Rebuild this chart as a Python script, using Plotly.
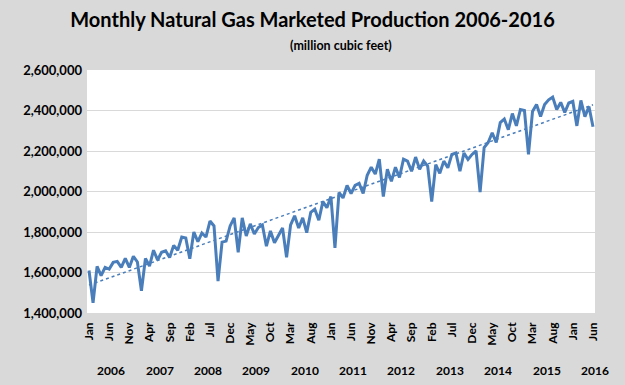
import numpy as np
import plotly.graph_objects as go

months = ["Jan", "Feb", "Mar", "Apr", "May", "Jun", "Jul", "Aug", "Sep", "Oct", "Nov", "Dec"]
years = [2006, 2007, 2008, 2009, 2010, 2011, 2012, 2013, 2014, 2015, 2016]

# Monthly marketed production, million cubic feet
prod_2006 = [1610000, 1450000, 1630000, 1585000, 1625000, 1617000, 1650000, 1655000, 1625000, 1670000, 1625000, 1680000]
prod_2007 = [1652000, 1510000, 1670000, 1632000, 1710000, 1662000, 1700000, 1707000, 1674000, 1734000, 1710000, 1775000]
prod_2008 = [1770000, 1668000, 1800000, 1752000, 1795000, 1775000, 1854000, 1830000, 1557000, 1750000, 1755000, 1830000]
prod_2009 = [1870000, 1700000, 1870000, 1780000, 1840000, 1790000, 1822000, 1835000, 1730000, 1805000, 1747000, 1780000]
prod_2010 = [1820000, 1675000, 1835000, 1880000, 1820000, 1870000, 1797000, 1897000, 1913000, 1858000, 1950000, 1920000]
prod_2011 = [1975000, 1722000, 1995000, 1968000, 2030000, 1990000, 2030000, 2040000, 1990000, 2080000, 2120000, 2086000]
prod_2012 = [2160000, 1975000, 2110000, 2050000, 2120000, 2070000, 2160000, 2150000, 2100000, 2170000, 2110000, 2150000]
prod_2013 = [2125000, 1950000, 2133000, 2090000, 2150000, 2117000, 2183000, 2190000, 2100000, 2190000, 2158000, 2183000]
prod_2014 = [2200000, 1997000, 2217000, 2242000, 2290000, 2242000, 2340000, 2358000, 2305000, 2385000, 2324000, 2405000]
prod_2015 = [2400000, 2183000, 2395000, 2430000, 2370000, 2430000, 2453000, 2466000, 2405000, 2440000, 2390000, 2437000]
prod_2016 = [2445000, 2324000, 2450000, 2370000, 2420000, 2320000]

values = (prod_2006 + prod_2007 + prod_2008 + prod_2009 + prod_2010 + prod_2011
          + prod_2012 + prod_2013 + prod_2014 + prod_2015 + prod_2016)
idx = list(range(len(values)))
labels = [months[i % 12] for i in idx]

# Linear trendline (least squares) as in the original spreadsheet chart
slope, intercept = np.polyfit(idx, values, 1)
trend = [slope * i + intercept for i in idx]

blue = "#4a7ebb"
font_family = "Lato, 'Open Sans', sans-serif"

fig = go.Figure()
fig.add_trace(go.Scatter(x=idx, y=values, mode="lines",
                         line=dict(color=blue, width=3), hoverinfo="skip"))
fig.add_trace(go.Scatter(x=idx, y=trend, mode="lines",
                         line=dict(color=blue, width=1.5, dash="dot"), hoverinfo="skip"))

tickvals = idx[::5]
ticktext = [labels[i] for i in tickvals]

annotations = [dict(text="(million cubic feet)", x=0.5, xref="paper",
                    y=1.099, yref="paper", showarrow=False, yanchor="middle",
                    font=dict(size=12.5, color="black", family=font_family, weight="bold"))]
for k, yr in enumerate(years):
    annotations.append(dict(text=str(yr), x=5.5 + 12 * k, xref="x",
                            y=-0.235, yref="paper", showarrow=False,
                            yanchor="middle", xanchor="center",
                            font=dict(size=12, color="black", family=font_family, weight="bold")))

fig.update_layout(
    width=625, height=385,
    margin=dict(l=87, r=30, t=70, b=72, autoexpand=False),
    paper_bgcolor="#d9d9d9", plot_bgcolor="white",
    showlegend=False,
    title=dict(text="Monthly Natural Gas Marketed Production 2006-2016",
               x=0.5, xanchor="center", y=1 - 20 / 385, yanchor="middle",
               font=dict(size=20, color="black", family=font_family, weight="bold")),
    font=dict(family=font_family, color="black"),
    annotations=annotations,
    xaxis=dict(range=[-0.5, 125.5], tickmode="array", tickvals=tickvals,
               ticktext=ticktext, tickangle=-90, automargin=False,
               showgrid=False, zeroline=False, showline=False, ticklabelstandoff=6,
               tickfont=dict(size=12, color="black", weight="bold"), ticks=""),
    yaxis=dict(range=[1400000, 2600000], dtick=200000, tickformat=",", automargin=False,
               showgrid=True, gridcolor="#d9d9d9", gridwidth=1, zeroline=False,
               showline=False, ticklabelstandoff=4,
               tickfont=dict(size=13, color="black", weight="bold"), ticks=""),
)

fig.write_html("out.html", config={"displayModeBar": False},
               post_script="document.body.style.margin='0';")
